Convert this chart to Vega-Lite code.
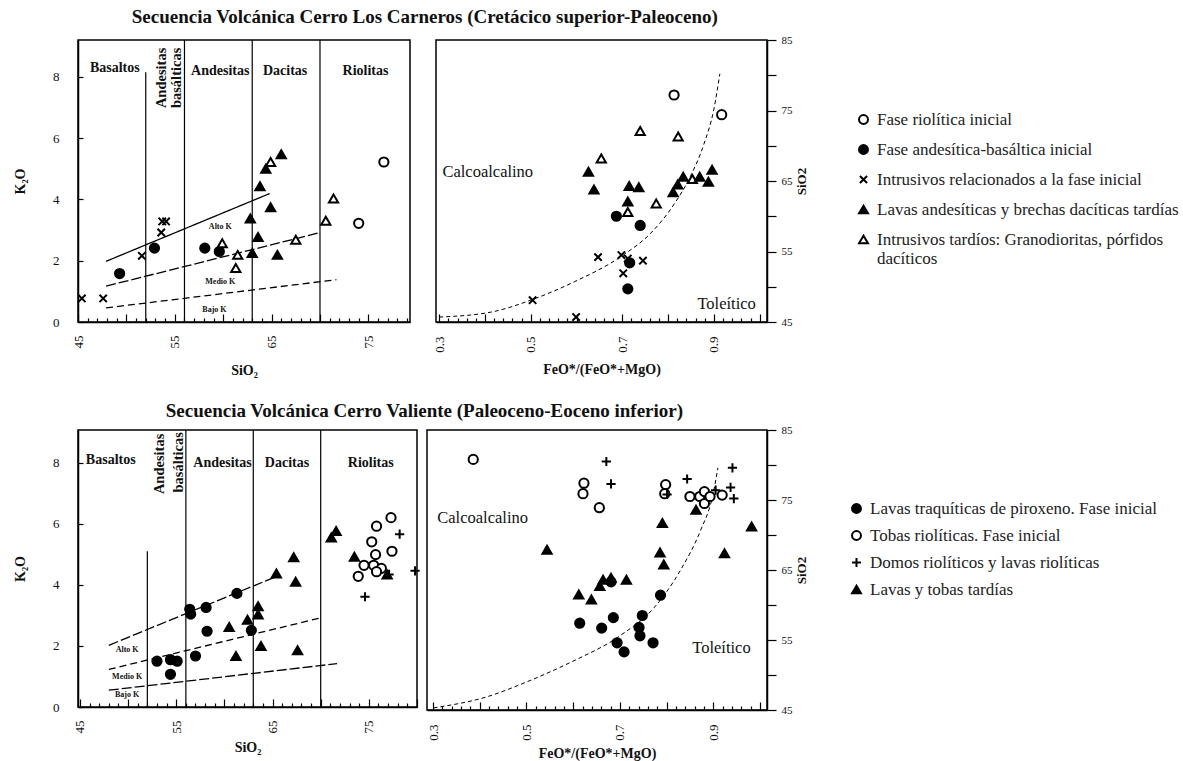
{
"$schema": "https://vega.github.io/schema/vega-lite/v6.json",
"background": "white",
"padding": {"left": 12, "top": 8, "right": 0, "bottom": 0},
"config": {
 "font": "Liberation Serif",
 "view": {"stroke": "black", "strokeWidth": 1.5},
 "axis": {"grid": false, "domainColor": "black", "domainWidth": 1.5, "tickColor": "black", "tickWidth": 1.2, "labelColor": "#111", "titleColor": "#111", "labelFont": "Liberation Serif", "titleFont": "Liberation Serif", "labelFontSize": 13, "titleFontSize": 14, "titleFontWeight": "bold", "labelFlush": false, "labelOverlap": false, "tickCount": 200},
 "text": {"font": "Liberation Serif", "color": "#111"},
 "title": {"font": "Liberation Serif", "fontSize": 19, "fontWeight": "bold", "color": "#111"},
 "legend": {"title": null, "orient": "none", "labelFont": "Liberation Serif", "labelFontSize": 17, "labelColor": "#222", "symbolStrokeWidth": 2, "symbolSize": 80, "labelOffset": 5, "labelLimit": 500}
},
"datasets": {
 "tlV": [{"x":52,"y":8.15,"y2":0},{"x":56,"y":9.2,"y2":0},{"x":63,"y":9.2,"y2":0},{"x":70,"y":9.2,"y2":0}],
 "tlK": [{"x":47.9,"y":1.98,"x2":64.8,"y2":4.19,"estilo":"continua"},{"x":47.9,"y":1.17,"x2":69.8,"y2":2.9,"estilo":"larga"},{"x":47.9,"y":0.46,"x2":71.7,"y2":1.38,"estilo":"corta"}],
 "tlRoc": [{"x":48.8,"y":8.3,"t":"Basaltos"},{"x":59.7,"y":8.2,"t":"Andesitas"},{"x":66.4,"y":8.2,"t":"Dacitas"},{"x":74.7,"y":8.2,"t":"Riolitas"}],
 "tlRot": [{"x":53.7,"y":8.95,"t":"Andesitas"},{"x":55.2,"y":8.95,"t":"basálticas"}],
 "tlKt": [{"x":59.7,"y":3.1,"t":"Alto K"},{"x":59.7,"y":1.3,"t":"Medio K"},{"x":59.1,"y":0.4,"t":"Bajo K"}],
 "tlPts": [
  {"x":45.4,"y":0.77,"g":"Intrusivos relacionados a la fase inicial"},
  {"x":47.6,"y":0.77,"g":"Intrusivos relacionados a la fase inicial"},
  {"x":51.6,"y":2.16,"g":"Intrusivos relacionados a la fase inicial"},
  {"x":53.7,"y":3.28,"g":"Intrusivos relacionados a la fase inicial"},
  {"x":54.1,"y":3.28,"g":"Intrusivos relacionados a la fase inicial"},
  {"x":53.6,"y":2.92,"g":"Intrusivos relacionados a la fase inicial"},
  {"x":49.3,"y":1.58,"g":"Fase andesítica-basáltica inicial"},
  {"x":52.9,"y":2.41,"g":"Fase andesítica-basáltica inicial"},
  {"x":58.1,"y":2.41,"g":"Fase andesítica-basáltica inicial"},
  {"x":59.6,"y":2.3,"g":"Fase andesítica-basáltica inicial"},
  {"x":59.9,"y":2.57,"g":"Intrusivos tardíos: Granodioritas, pórfidos dacíticos"},
  {"x":61.5,"y":2.19,"g":"Intrusivos tardíos: Granodioritas, pórfidos dacíticos"},
  {"x":61.3,"y":1.76,"g":"Intrusivos tardíos: Granodioritas, pórfidos dacíticos"},
  {"x":64.9,"y":5.22,"g":"Intrusivos tardíos: Granodioritas, pórfidos dacíticos"},
  {"x":67.5,"y":2.68,"g":"Intrusivos tardíos: Granodioritas, pórfidos dacíticos"},
  {"x":70.6,"y":3.3,"g":"Intrusivos tardíos: Granodioritas, pórfidos dacíticos"},
  {"x":71.4,"y":4.03,"g":"Intrusivos tardíos: Granodioritas, pórfidos dacíticos"},
  {"x":62.8,"y":3.38,"g":"Lavas andesíticas y brechas dacíticas tardías"},
  {"x":63.6,"y":2.77,"g":"Lavas andesíticas y brechas dacíticas tardías"},
  {"x":63.0,"y":2.25,"g":"Lavas andesíticas y brechas dacíticas tardías"},
  {"x":63.8,"y":4.43,"g":"Lavas andesíticas y brechas dacíticas tardías"},
  {"x":64.4,"y":5.0,"g":"Lavas andesíticas y brechas dacíticas tardías"},
  {"x":66.0,"y":5.47,"g":"Lavas andesíticas y brechas dacíticas tardías"},
  {"x":64.9,"y":3.74,"g":"Lavas andesíticas y brechas dacíticas tardías"},
  {"x":65.6,"y":2.19,"g":"Lavas andesíticas y brechas dacíticas tardías"},
  {"x":74.0,"y":3.22,"g":"Fase riolítica inicial"},
  {"x":76.6,"y":5.22,"g":"Fase riolítica inicial"}
 ],
 "trCurva": [{"x":0.3,"y":45.7},{"x":0.413,"y":46.4},{"x":0.504,"y":48.2},{"x":0.595,"y":50.7},{"x":0.702,"y":54.5},{"x":0.762,"y":57.6},{"x":0.813,"y":61.7},{"x":0.849,"y":65.7},{"x":0.878,"y":70.2},{"x":0.9,"y":75.2},{"x":0.913,"y":80.2}],
 "trT": [{"x":0.307,"y":66.3,"t":"Calcoalcalino"},{"x":0.864,"y":47.6,"t":"Toleítico"}],
 "trPts": [
  {"x":0.813,"y":77.2,"g":"Fase riolítica inicial"},
  {"x":0.917,"y":74.4,"g":"Fase riolítica inicial"},
  {"x":0.739,"y":72.1,"g":"Intrusivos tardíos: Granodioritas, pórfidos dacíticos"},
  {"x":0.822,"y":71.3,"g":"Intrusivos tardíos: Granodioritas, pórfidos dacíticos"},
  {"x":0.654,"y":68.2,"g":"Intrusivos tardíos: Granodioritas, pórfidos dacíticos"},
  {"x":0.774,"y":61.8,"g":"Intrusivos tardíos: Granodioritas, pórfidos dacíticos"},
  {"x":0.712,"y":60.6,"g":"Intrusivos tardíos: Granodioritas, pórfidos dacíticos"},
  {"x":0.853,"y":65.3,"g":"Intrusivos tardíos: Granodioritas, pórfidos dacíticos"},
  {"x":0.626,"y":66.3,"g":"Lavas andesíticas y brechas dacíticas tardías"},
  {"x":0.638,"y":63.8,"g":"Lavas andesíticas y brechas dacíticas tardías"},
  {"x":0.715,"y":64.3,"g":"Lavas andesíticas y brechas dacíticas tardías"},
  {"x":0.736,"y":64.1,"g":"Lavas andesíticas y brechas dacíticas tardías"},
  {"x":0.712,"y":62.1,"g":"Lavas andesíticas y brechas dacíticas tardías"},
  {"x":0.811,"y":63.4,"g":"Lavas andesíticas y brechas dacíticas tardías"},
  {"x":0.821,"y":64.5,"g":"Lavas andesíticas y brechas dacíticas tardías"},
  {"x":0.833,"y":65.6,"g":"Lavas andesíticas y brechas dacíticas tardías"},
  {"x":0.869,"y":65.6,"g":"Lavas andesíticas y brechas dacíticas tardías"},
  {"x":0.888,"y":64.9,"g":"Lavas andesíticas y brechas dacíticas tardías"},
  {"x":0.896,"y":66.6,"g":"Lavas andesíticas y brechas dacíticas tardías"},
  {"x":0.687,"y":60.0,"g":"Fase andesítica-basáltica inicial"},
  {"x":0.739,"y":58.7,"g":"Fase andesítica-basáltica inicial"},
  {"x":0.716,"y":53.4,"g":"Fase andesítica-basáltica inicial"},
  {"x":0.712,"y":49.7,"g":"Fase andesítica-basáltica inicial"},
  {"x":0.647,"y":54.2,"g":"Intrusivos relacionados a la fase inicial"},
  {"x":0.698,"y":54.5,"g":"Intrusivos relacionados a la fase inicial"},
  {"x":0.712,"y":54.0,"g":"Intrusivos relacionados a la fase inicial"},
  {"x":0.745,"y":53.7,"g":"Intrusivos relacionados a la fase inicial"},
  {"x":0.702,"y":51.9,"g":"Intrusivos relacionados a la fase inicial"},
  {"x":0.504,"y":48.1,"g":"Intrusivos relacionados a la fase inicial"},
  {"x":0.599,"y":45.7,"g":"Intrusivos relacionados a la fase inicial"}
 ],
 "blV": [{"x":52,"y":5.1,"y2":0},{"x":56,"y":9.07,"y2":0},{"x":63,"y":9.07,"y2":0},{"x":70,"y":9.07,"y2":0}],
 "blK": [{"x":48.0,"y":2.02,"x2":65.3,"y2":4.26,"estilo":"larga"},{"x":48.0,"y":1.23,"x2":70.0,"y2":2.92,"estilo":"corta"},{"x":48.0,"y":0.55,"x2":71.7,"y2":1.42,"estilo":"larga"}],
 "blRoc": [{"x":48.2,"y":8.1,"t":"Basaltos"},{"x":59.8,"y":8.0,"t":"Andesitas"},{"x":66.5,"y":8.0,"t":"Dacitas"},{"x":75.2,"y":8.0,"t":"Riolitas"}],
 "blRot": [{"x":53.3,"y":8.95,"t":"Andesitas"},{"x":55.3,"y":9.0,"t":"basálticas"}],
 "blKt": [{"x":49.9,"y":1.86,"t":"Alto K"},{"x":49.9,"y":0.98,"t":"Medio K"},{"x":49.9,"y":0.38,"t":"Bajo K"}],
 "blPts": [
  {"x":53.0,"y":1.5,"g":"Lavas traquíticas de piroxeno. Fase inicial"},
  {"x":54.4,"y":1.07,"g":"Lavas traquíticas de piroxeno. Fase inicial"},
  {"x":54.4,"y":1.55,"g":"Lavas traquíticas de piroxeno. Fase inicial"},
  {"x":55.1,"y":1.5,"g":"Lavas traquíticas de piroxeno. Fase inicial"},
  {"x":56.4,"y":3.2,"g":"Lavas traquíticas de piroxeno. Fase inicial"},
  {"x":56.5,"y":3.04,"g":"Lavas traquíticas de piroxeno. Fase inicial"},
  {"x":58.1,"y":3.26,"g":"Lavas traquíticas de piroxeno. Fase inicial"},
  {"x":58.2,"y":2.48,"g":"Lavas traquíticas de piroxeno. Fase inicial"},
  {"x":57.0,"y":1.67,"g":"Lavas traquíticas de piroxeno. Fase inicial"},
  {"x":61.3,"y":3.72,"g":"Lavas traquíticas de piroxeno. Fase inicial"},
  {"x":62.8,"y":2.51,"g":"Lavas traquíticas de piroxeno. Fase inicial"},
  {"x":60.5,"y":2.62,"g":"Lavas y tobas tardías"},
  {"x":61.2,"y":1.67,"g":"Lavas y tobas tardías"},
  {"x":62.4,"y":2.86,"g":"Lavas y tobas tardías"},
  {"x":63.5,"y":3.3,"g":"Lavas y tobas tardías"},
  {"x":63.5,"y":3.03,"g":"Lavas y tobas tardías"},
  {"x":63.8,"y":2.0,"g":"Lavas y tobas tardías"},
  {"x":65.4,"y":4.37,"g":"Lavas y tobas tardías"},
  {"x":67.2,"y":4.9,"g":"Lavas y tobas tardías"},
  {"x":67.4,"y":4.1,"g":"Lavas y tobas tardías"},
  {"x":67.6,"y":1.86,"g":"Lavas y tobas tardías"},
  {"x":71.1,"y":5.55,"g":"Lavas y tobas tardías"},
  {"x":71.6,"y":5.76,"g":"Lavas y tobas tardías"},
  {"x":73.5,"y":4.92,"g":"Lavas y tobas tardías"},
  {"x":76.9,"y":4.34,"g":"Lavas y tobas tardías"},
  {"x":73.9,"y":4.28,"g":"Tobas riolíticas. Fase inicial"},
  {"x":74.5,"y":4.64,"g":"Tobas riolíticas. Fase inicial"},
  {"x":75.3,"y":5.41,"g":"Tobas riolíticas. Fase inicial"},
  {"x":75.8,"y":5.92,"g":"Tobas riolíticas. Fase inicial"},
  {"x":77.3,"y":6.2,"g":"Tobas riolíticas. Fase inicial"},
  {"x":75.7,"y":4.99,"g":"Tobas riolíticas. Fase inicial"},
  {"x":75.5,"y":4.64,"g":"Tobas riolíticas. Fase inicial"},
  {"x":76.3,"y":4.54,"g":"Tobas riolíticas. Fase inicial"},
  {"x":75.8,"y":4.43,"g":"Tobas riolíticas. Fase inicial"},
  {"x":77.4,"y":5.1,"g":"Tobas riolíticas. Fase inicial"},
  {"x":74.6,"y":3.61,"g":"Domos riolíticos y lavas riolíticas"},
  {"x":78.2,"y":5.66,"g":"Domos riolíticos y lavas riolíticas"},
  {"x":77.1,"y":4.34,"g":"Domos riolíticos y lavas riolíticas"},
  {"x":79.8,"y":4.46,"g":"Domos riolíticos y lavas riolíticas"}
 ],
 "brCurva": [{"x":0.301,"y":45.3},{"x":0.416,"y":46.9},{"x":0.5,"y":49.0},{"x":0.594,"y":51.8},{"x":0.7,"y":55.6},{"x":0.773,"y":59.6},{"x":0.83,"y":65.0},{"x":0.873,"y":70.7},{"x":0.898,"y":75.4},{"x":0.91,"y":79.6}],
 "brT": [{"x":0.309,"y":72.4,"t":"Calcoalcalino"},{"x":0.855,"y":53.8,"t":"Toleítico"}],
 "brPts": [
  {"x":0.386,"y":80.8,"g":"Tobas riolíticas. Fase inicial"},
  {"x":0.623,"y":77.4,"g":"Tobas riolíticas. Fase inicial"},
  {"x":0.621,"y":75.9,"g":"Tobas riolíticas. Fase inicial"},
  {"x":0.656,"y":73.9,"g":"Tobas riolíticas. Fase inicial"},
  {"x":0.798,"y":77.2,"g":"Tobas riolíticas. Fase inicial"},
  {"x":0.796,"y":75.9,"g":"Tobas riolíticas. Fase inicial"},
  {"x":0.85,"y":75.5,"g":"Tobas riolíticas. Fase inicial"},
  {"x":0.871,"y":75.5,"g":"Tobas riolíticas. Fase inicial"},
  {"x":0.881,"y":76.2,"g":"Tobas riolíticas. Fase inicial"},
  {"x":0.881,"y":74.5,"g":"Tobas riolíticas. Fase inicial"},
  {"x":0.893,"y":75.5,"g":"Tobas riolíticas. Fase inicial"},
  {"x":0.919,"y":75.7,"g":"Tobas riolíticas. Fase inicial"},
  {"x":0.671,"y":80.5,"g":"Domos riolíticos y lavas riolíticas"},
  {"x":0.681,"y":77.3,"g":"Domos riolíticos y lavas riolíticas"},
  {"x":0.801,"y":75.8,"g":"Domos riolíticos y lavas riolíticas"},
  {"x":0.844,"y":78.0,"g":"Domos riolíticos y lavas riolíticas"},
  {"x":0.941,"y":79.6,"g":"Domos riolíticos y lavas riolíticas"},
  {"x":0.937,"y":76.8,"g":"Domos riolíticos y lavas riolíticas"},
  {"x":0.944,"y":75.2,"g":"Domos riolíticos y lavas riolíticas"},
  {"x":0.905,"y":76.4,"g":"Domos riolíticos y lavas riolíticas"},
  {"x":0.544,"y":67.9,"g":"Lavas y tobas tardías"},
  {"x":0.612,"y":61.5,"g":"Lavas y tobas tardías"},
  {"x":0.639,"y":60.8,"g":"Lavas y tobas tardías"},
  {"x":0.657,"y":62.7,"g":"Lavas y tobas tardías"},
  {"x":0.664,"y":63.6,"g":"Lavas y tobas tardías"},
  {"x":0.681,"y":63.9,"g":"Lavas y tobas tardías"},
  {"x":0.714,"y":63.6,"g":"Lavas y tobas tardías"},
  {"x":0.791,"y":71.7,"g":"Lavas y tobas tardías"},
  {"x":0.786,"y":67.5,"g":"Lavas y tobas tardías"},
  {"x":0.794,"y":65.8,"g":"Lavas y tobas tardías"},
  {"x":0.863,"y":73.6,"g":"Lavas y tobas tardías"},
  {"x":0.924,"y":67.4,"g":"Lavas y tobas tardías"},
  {"x":0.982,"y":71.2,"g":"Lavas y tobas tardías"},
  {"x":0.681,"y":63.3,"g":"Lavas traquíticas de piroxeno. Fase inicial"},
  {"x":0.787,"y":61.4,"g":"Lavas traquíticas de piroxeno. Fase inicial"},
  {"x":0.614,"y":57.4,"g":"Lavas traquíticas de piroxeno. Fase inicial"},
  {"x":0.661,"y":56.7,"g":"Lavas traquíticas de piroxeno. Fase inicial"},
  {"x":0.686,"y":58.2,"g":"Lavas traquíticas de piroxeno. Fase inicial"},
  {"x":0.748,"y":58.5,"g":"Lavas traquíticas de piroxeno. Fase inicial"},
  {"x":0.741,"y":56.8,"g":"Lavas traquíticas de piroxeno. Fase inicial"},
  {"x":0.743,"y":55.6,"g":"Lavas traquíticas de piroxeno. Fase inicial"},
  {"x":0.694,"y":54.6,"g":"Lavas traquíticas de piroxeno. Fase inicial"},
  {"x":0.709,"y":53.3,"g":"Lavas traquíticas de piroxeno. Fase inicial"},
  {"x":0.771,"y":54.6,"g":"Lavas traquíticas de piroxeno. Fase inicial"}
 ]
},
"spacing": 24,
"resolve": {"scale": {"shape": "independent", "fill": "independent", "stroke": "independent"}},
"vconcat": [
 {
  "title": {"text": "Secuencia Volcánica Cerro Los Carneros (Cretácico superior-Paleoceno)", "anchor": "start", "dx": 119, "offset": 6},
  "spacing": 17,
  "resolve": {"legend": {"shape": "independent", "fill": "independent", "stroke": "independent"}},
  "hconcat": [
   {
    "width": 332, "height": 282,
    "layer": [
     {"data": {"name": "tlV"}, "mark": {"type": "rule", "color": "black", "strokeWidth": 1.2},
      "encoding": {
       "x": {"field": "x", "type": "quantitative", "scale": {"domain": [45, 79.3], "nice": false, "zero": false},
        "axis": {"title": "SiO₂", "tickCount": 200, "format": "d", "values": [45,46,47,48,49,50,51,52,53,54,55,56,57,58,59,60,61,62,63,64,65,66,67,68,69,70,71,72,73,74,75,76,77,78,79], "labelExpr": "(datum.value - 45) % 10 == 0 ? datum.label : ''", "labelAngle": -90, "labelOverlap": false, "labelFlush": false, "tickSize": {"condition": {"test": "datum.value % 5 == 0", "value": -8}, "value": -4}, "labelPadding": 21, "titlePadding": 15}},
       "y": {"field": "y", "type": "quantitative", "scale": {"domain": [0, 9.2], "nice": false},
        "axis": {"title": "K₂O", "tickCount": 200, "format": "d", "values": [0,2,4,6,8], "tickSize": -5, "labelPadding": 24, "titlePadding": 25, "labelOverlap": false}},
       "y2": {"field": "y2"}}},
     {"data": {"name": "tlK"}, "mark": {"type": "rule", "color": "black", "strokeWidth": 1.3},
      "encoding": {"x": {"field": "x", "type": "quantitative"}, "y": {"field": "y", "type": "quantitative"}, "x2": {"field": "x2"}, "y2": {"field": "y2"},
       "strokeDash": {"field": "estilo", "type": "nominal", "scale": {"domain": ["continua", "larga", "corta"], "range": [[1, 0], [10, 3], [7, 4]]}, "legend": null}}},
     {"data": {"name": "tlRoc"}, "mark": {"type": "text", "fontWeight": "bold", "fontSize": 14, "baseline": "middle"},
      "encoding": {"x": {"field": "x", "type": "quantitative"}, "y": {"field": "y", "type": "quantitative"}, "text": {"field": "t"}}},
     {"data": {"name": "tlRot"}, "mark": {"type": "text", "fontWeight": "bold", "fontSize": 14.5, "angle": 270, "align": "right", "baseline": "middle"},
      "encoding": {"x": {"field": "x", "type": "quantitative"}, "y": {"field": "y", "type": "quantitative"}, "text": {"field": "t"}}},
     {"data": {"name": "tlKt"}, "mark": {"type": "text", "fontWeight": "bold", "fontSize": 8, "baseline": "middle"},
      "encoding": {"x": {"field": "x", "type": "quantitative"}, "y": {"field": "y", "type": "quantitative"}, "text": {"field": "t"}}},
     {"data": {"name": "tlPts"}, "mark": {"type": "point", "strokeWidth": 2, "size": 85, "opacity": 1},
      "encoding": {"x": {"field": "x", "type": "quantitative"}, "y": {"field": "y", "type": "quantitative"},
       "shape": {"field": "g", "type": "nominal", "scale": {"domain": ["Fase riolítica inicial", "Fase andesítica-basáltica inicial", "Intrusivos relacionados a la fase inicial", "Lavas andesíticas y brechas dacíticas tardías", "Intrusivos tardíos: Granodioritas, pórfidos dacíticos"], "range": ["circle", "circle", "M-0.8,-0.8L0.8,0.8M-0.8,0.8L0.8,-0.8", "triangle-up", "triangle-up"]}, "legend": null},
       "fill": {"field": "g", "type": "nominal", "scale": {"domain": ["Fase riolítica inicial", "Fase andesítica-basáltica inicial", "Intrusivos relacionados a la fase inicial", "Lavas andesíticas y brechas dacíticas tardías", "Intrusivos tardíos: Granodioritas, pórfidos dacíticos"], "range": ["white", "black", "black", "black", "white"]}, "legend": null},
       "stroke": {"field": "g", "type": "nominal", "scale": {"domain": ["Fase riolítica inicial", "Fase andesítica-basáltica inicial", "Intrusivos relacionados a la fase inicial", "Lavas andesíticas y brechas dacíticas tardías", "Intrusivos tardíos: Granodioritas, pórfidos dacíticos"], "range": ["black", "black", "black", "black", "black"]}, "legend": null}}}
    ]
   },
   {
    "width": 331, "height": 282,
    "layer": [
     {"data": {"name": "trCurva"}, "mark": {"type": "line", "color": "black", "strokeWidth": 1, "strokeDash": [4, 3], "interpolate": "monotone"},
      "encoding": {
       "x": {"field": "x", "type": "quantitative", "scale": {"domain": [0.293, 1.016], "nice": false, "zero": false},
        "axis": {"title": "FeO*/(FeO*+MgO)", "tickCount": 200, "values": [0.3,0.32,0.34,0.36,0.38,0.4,0.42,0.44,0.46,0.48,0.5,0.52,0.54,0.56,0.58,0.6,0.62,0.64,0.66,0.68,0.7,0.72,0.74,0.76,0.78,0.8,0.82,0.84,0.86,0.88,0.9,0.92,0.94,0.96,0.98,1.0], "labelExpr": "(datum.value == 0.3 || datum.value == 0.5 || datum.value == 0.7 || datum.value == 0.9) ? format(datum.value, '.1f') : ''", "labelAngle": -90, "labelOverlap": false, "labelFlush": false, "tickSize": {"condition": {"test": "abs(datum.value*10 - round(datum.value*10)) < 0.001", "value": -8}, "value": -4}, "labelPadding": 22, "titlePadding": 10}},
       "y": {"field": "y", "type": "quantitative", "scale": {"domain": [45, 85], "nice": false, "zero": false},
        "axis": {"title": "SiO2", "orient": "right", "tickCount": 200, "format": "d", "values": [45,50,55,60,65,70,75,80,85], "labelExpr": "datum.value % 10 == 5 ? datum.label : ''", "labelOverlap": false, "labelFontSize": 11, "labelAlign": "left", "tickSize": 9, "labelPadding": 5, "titlePadding": 16, "titleAngle": 270, "titleFontSize": 13}}}},
     {"data": {"name": "trT"}, "mark": {"type": "text", "fontSize": 16.5, "align": "left", "baseline": "middle"},
      "encoding": {"x": {"field": "x", "type": "quantitative"}, "y": {"field": "y", "type": "quantitative"}, "text": {"field": "t"}}},
     {"data": {"name": "trPts"}, "mark": {"type": "point", "strokeWidth": 2, "size": 85, "opacity": 1},
      "encoding": {"x": {"field": "x", "type": "quantitative"}, "y": {"field": "y", "type": "quantitative"},
       "shape": {"field": "g", "type": "nominal", "scale": {"domain": ["Fase riolítica inicial", "Fase andesítica-basáltica inicial", "Intrusivos relacionados a la fase inicial", "Lavas andesíticas y brechas dacíticas tardías", "Intrusivos tardíos: Granodioritas, pórfidos dacíticos"], "range": ["circle", "circle", "M-0.8,-0.8L0.8,0.8M-0.8,0.8L0.8,-0.8", "triangle-up", "triangle-up"]},
        "legend": {"legendX": 419, "legendY": 71, "rowPadding": 12, "labelExpr": "datum.label == 'Intrusivos tardíos: Granodioritas, pórfidos dacíticos' ? ['Intrusivos tardíos: Granodioritas, pórfidos', 'dacíticos'] : datum.label"}},
       "fill": {"field": "g", "type": "nominal", "scale": {"domain": ["Fase riolítica inicial", "Fase andesítica-basáltica inicial", "Intrusivos relacionados a la fase inicial", "Lavas andesíticas y brechas dacíticas tardías", "Intrusivos tardíos: Granodioritas, pórfidos dacíticos"], "range": ["white", "black", "black", "black", "white"]},
        "legend": {"legendX": 419, "legendY": 71, "rowPadding": 12, "labelExpr": "datum.label == 'Intrusivos tardíos: Granodioritas, pórfidos dacíticos' ? ['Intrusivos tardíos: Granodioritas, pórfidos', 'dacíticos'] : datum.label"}},
       "stroke": {"field": "g", "type": "nominal", "scale": {"domain": ["Fase riolítica inicial", "Fase andesítica-basáltica inicial", "Intrusivos relacionados a la fase inicial", "Lavas andesíticas y brechas dacíticas tardías", "Intrusivos tardíos: Granodioritas, pórfidos dacíticos"], "range": ["black", "black", "black", "black", "black"]},
        "legend": {"legendX": 419, "legendY": 71, "rowPadding": 12, "labelExpr": "datum.label == 'Intrusivos tardíos: Granodioritas, pórfidos dacíticos' ? ['Intrusivos tardíos: Granodioritas, pórfidos', 'dacíticos'] : datum.label"}}}}
    ]
   }
  ]
 },
 {
  "title": {"text": "Secuencia Volcánica Cerro Valiente (Paleoceno-Eoceno inferior)", "anchor": "start", "dx": 153, "offset": 2},
  "spacing": 1,
  "resolve": {"legend": {"shape": "independent", "fill": "independent", "stroke": "independent"}},
  "hconcat": [
   {
    "width": 339, "height": 277,
    "layer": [
     {"data": {"name": "blV"}, "mark": {"type": "rule", "color": "black", "strokeWidth": 1.2},
      "encoding": {
       "x": {"field": "x", "type": "quantitative", "scale": {"domain": [44.8, 80], "nice": false, "zero": false},
        "axis": {"title": "SiO₂", "tickCount": 200, "format": "d", "values": [45,46,47,48,49,50,51,52,53,54,55,56,57,58,59,60,61,62,63,64,65,66,67,68,69,70,71,72,73,74,75,76,77,78,79,80], "labelExpr": "(datum.value - 45) % 10 == 0 ? datum.label : ''", "labelAngle": -90, "labelOverlap": false, "labelFlush": false, "tickSize": {"condition": {"test": "datum.value % 5 == 0", "value": -8}, "value": -4}, "labelPadding": 21, "titlePadding": 7}},
       "y": {"field": "y", "type": "quantitative", "scale": {"domain": [0, 9.07], "nice": false},
        "axis": {"title": "K₂O", "tickCount": 200, "format": "d", "values": [0,2,4,6,8], "tickSize": -5, "labelPadding": 24, "titlePadding": 25, "labelOverlap": false}},
       "y2": {"field": "y2"}}},
     {"data": {"name": "blK"}, "mark": {"type": "rule", "color": "black", "strokeWidth": 1.3},
      "encoding": {"x": {"field": "x", "type": "quantitative"}, "y": {"field": "y", "type": "quantitative"}, "x2": {"field": "x2"}, "y2": {"field": "y2"},
       "strokeDash": {"field": "estilo", "type": "nominal", "scale": {"domain": ["continua", "larga", "corta"], "range": [[1, 0], [10, 3], [5, 4]]}, "legend": null}}},
     {"data": {"name": "blRoc"}, "mark": {"type": "text", "fontWeight": "bold", "fontSize": 14, "baseline": "middle"},
      "encoding": {"x": {"field": "x", "type": "quantitative"}, "y": {"field": "y", "type": "quantitative"}, "text": {"field": "t"}}},
     {"data": {"name": "blRot"}, "mark": {"type": "text", "fontWeight": "bold", "fontSize": 14.5, "angle": 270, "align": "right", "baseline": "middle"},
      "encoding": {"x": {"field": "x", "type": "quantitative"}, "y": {"field": "y", "type": "quantitative"}, "text": {"field": "t"}}},
     {"data": {"name": "blKt"}, "mark": {"type": "text", "fontWeight": "bold", "fontSize": 8, "baseline": "middle"},
      "encoding": {"x": {"field": "x", "type": "quantitative"}, "y": {"field": "y", "type": "quantitative"}, "text": {"field": "t"}}},
     {"data": {"name": "blPts"}, "mark": {"type": "point", "strokeWidth": 2, "size": 85, "opacity": 1},
      "encoding": {"x": {"field": "x", "type": "quantitative"}, "y": {"field": "y", "type": "quantitative"},
       "shape": {"field": "g", "type": "nominal", "scale": {"domain": ["Lavas traquíticas de piroxeno. Fase inicial", "Tobas riolíticas. Fase inicial", "Domos riolíticos y lavas riolíticas", "Lavas y tobas tardías"], "range": ["circle", "circle", "M-1,0L1,0M0,-1L0,1", "triangle-up"]}, "legend": null},
       "fill": {"field": "g", "type": "nominal", "scale": {"domain": ["Lavas traquíticas de piroxeno. Fase inicial", "Tobas riolíticas. Fase inicial", "Domos riolíticos y lavas riolíticas", "Lavas y tobas tardías"], "range": ["black", "white", "black", "black"]}, "legend": null},
       "stroke": {"field": "g", "type": "nominal", "scale": {"domain": ["Lavas traquíticas de piroxeno. Fase inicial", "Tobas riolíticas. Fase inicial", "Domos riolíticos y lavas riolíticas", "Lavas y tobas tardías"], "range": ["black", "black", "black", "black"]}, "legend": null}}}
    ]
   },
   {
    "width": 340, "height": 280,
    "layer": [
     {"data": {"name": "brCurva"}, "mark": {"type": "line", "color": "black", "strokeWidth": 1, "strokeDash": [4, 3], "interpolate": "monotone"},
      "encoding": {
       "x": {"field": "x", "type": "quantitative", "scale": {"domain": [0.287, 1.015], "nice": false, "zero": false},
        "axis": {"title": "FeO*/(FeO*+MgO)", "tickCount": 200, "values": [0.3,0.32,0.34,0.36,0.38,0.4,0.42,0.44,0.46,0.48,0.5,0.52,0.54,0.56,0.58,0.6,0.62,0.64,0.66,0.68,0.7,0.72,0.74,0.76,0.78,0.8,0.82,0.84,0.86,0.88,0.9,0.92,0.94,0.96,0.98,1.0], "labelExpr": "(datum.value == 0.3 || datum.value == 0.5 || datum.value == 0.7 || datum.value == 0.9) ? format(datum.value, '.1f') : ''", "labelAngle": -90, "labelOverlap": false, "labelFlush": false, "tickSize": {"condition": {"test": "abs(datum.value*10 - round(datum.value*10)) < 0.001", "value": -8}, "value": -4}, "labelPadding": 22, "titlePadding": 6}},
       "y": {"field": "y", "type": "quantitative", "scale": {"domain": [45, 85], "nice": false, "zero": false},
        "axis": {"title": "SiO2", "orient": "right", "tickCount": 200, "format": "d", "values": [45,50,55,60,65,70,75,80,85], "labelExpr": "datum.value % 10 == 5 ? datum.label : ''", "labelOverlap": false, "labelFontSize": 11, "labelAlign": "left", "tickSize": 9, "labelPadding": 5, "titlePadding": 16, "titleAngle": 270, "titleFontSize": 13}}}},
     {"data": {"name": "brT"}, "mark": {"type": "text", "fontSize": 16.5, "align": "left", "baseline": "middle"},
      "encoding": {"x": {"field": "x", "type": "quantitative"}, "y": {"field": "y", "type": "quantitative"}, "text": {"field": "t"}}},
     {"data": {"name": "brPts"}, "mark": {"type": "point", "strokeWidth": 2, "size": 85, "opacity": 1},
      "encoding": {"x": {"field": "x", "type": "quantitative"}, "y": {"field": "y", "type": "quantitative"},
       "shape": {"field": "g", "type": "nominal", "scale": {"domain": ["Lavas traquíticas de piroxeno. Fase inicial", "Tobas riolíticas. Fase inicial", "Domos riolíticos y lavas riolíticas", "Lavas y tobas tardías"], "range": ["circle", "circle", "M-1,0L1,0M0,-1L0,1", "triangle-up"]},
        "legend": {"legendX": 421, "legendY": 70, "rowPadding": 9}},
       "fill": {"field": "g", "type": "nominal", "scale": {"domain": ["Lavas traquíticas de piroxeno. Fase inicial", "Tobas riolíticas. Fase inicial", "Domos riolíticos y lavas riolíticas", "Lavas y tobas tardías"], "range": ["black", "white", "black", "black"]},
        "legend": {"legendX": 421, "legendY": 70, "rowPadding": 9}},
       "stroke": {"field": "g", "type": "nominal", "scale": {"domain": ["Lavas traquíticas de piroxeno. Fase inicial", "Tobas riolíticas. Fase inicial", "Domos riolíticos y lavas riolíticas", "Lavas y tobas tardías"], "range": ["black", "black", "black", "black"]},
        "legend": {"legendX": 421, "legendY": 70, "rowPadding": 9}}}}
    ]
   }
  ]
 }
]
}
